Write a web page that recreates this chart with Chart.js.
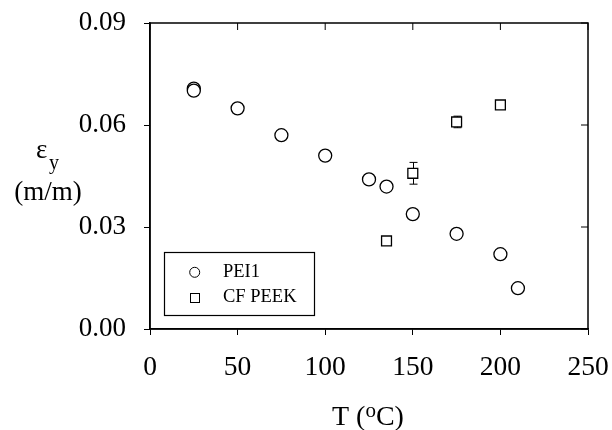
<!DOCTYPE html>
<html>
<head>
<meta charset="utf-8">
<script src="https://cdn.jsdelivr.net/npm/chart.js@4/dist/chart.umd.min.js"></script>
<style>
  html, body { margin: 0; padding: 0; background: #fff; }
  #wrap { width: 612px; height: 430px; }
</style>
</head>
<body>
<div id="wrap"><canvas id="c" width="612" height="430"></canvas></div>
<script>
// temperatures (oC) and yield strain (m/m)
const peiT = [25, 25, 50, 75, 100, 125, 135, 150, 175, 200, 210];
const peiStrain = [0.0707, 0.0701, 0.0649, 0.0570, 0.0510, 0.0440, 0.0419, 0.0338, 0.0280, 0.0220, 0.0120];
const peiErr = [0.0005, 0.0004, 0.0010, 0.0003, 0.0003, 0.0003, 0.0003, 0.0012, 0.0004, 0.0010, 0.0010];

const peekT = [135, 150, 175, 200];
const peekStrain = [0.0259, 0.0458, 0.0609, 0.0659];
const peekErr = [0.0012, 0.0032, 0.0017, 0.0004];

const xTicks = [0, 50, 100, 150, 200, 250];
const yTicks = [0.00, 0.03, 0.06, 0.09];

const FONT = '"Liberation Serif", "Times New Roman", serif';

function pts(xs, ys) {
    return xs.map((x, i) => ({ x: x, y: ys[i] }));
}

// error bars, box, inner ticks, axis titles and legend
const extras = {
    id: 'extras',
    beforeDatasetsDraw(chart) {
        const ctx = chart.ctx;
        const xs = chart.scales.x, ys = chart.scales.y;
        ctx.save();
        ctx.strokeStyle = '#000';
        ctx.lineWidth = 1;
        const sets = [[peiT, peiStrain, peiErr], [peekT, peekStrain, peekErr]];
        sets.forEach(([t, v, e]) => {
            t.forEach((tt, i) => {
                const px = Math.round(xs.getPixelForValue(tt)) + 0.5;
                const top = ys.getPixelForValue(v[i] + e[i]);
                const bot = ys.getPixelForValue(v[i] - e[i]);
                ctx.beginPath();
                ctx.moveTo(px, top); ctx.lineTo(px, bot);
                ctx.moveTo(px - 4, top); ctx.lineTo(px + 4, top);
                ctx.moveTo(px - 4, bot); ctx.lineTo(px + 4, bot);
                ctx.stroke();
            });
        });
        ctx.restore();
    },
    afterDraw(chart) {
        const ctx = chart.ctx;
        const a = chart.chartArea;
        const xs = chart.scales.x, ys = chart.scales.y;
        ctx.save();
        ctx.strokeStyle = '#000';
        ctx.lineWidth = 1.5;
        ctx.strokeRect(a.left, a.top, a.right - a.left, a.bottom - a.top);
        ctx.lineWidth = 1;
        ctx.beginPath();
        xTicks.forEach(t => {
            const px = xs.getPixelForValue(t);
            ctx.moveTo(px, a.top); ctx.lineTo(px, a.top + 7);
        });
        yTicks.forEach(t => {
            const py = ys.getPixelForValue(t);
            ctx.moveTo(a.right, py); ctx.lineTo(a.right - 7, py);
        });
        ctx.stroke();

        ctx.fillStyle = '#000';
        // y title
        ctx.textBaseline = 'alphabetic';
        ctx.textAlign = 'left';
        ctx.font = '27px ' + FONT;
        ctx.fillText('\u03b5', 36, 158);
        ctx.font = '20px ' + FONT;
        ctx.fillText('y', 49, 169);
        ctx.font = '27px ' + FONT;
        ctx.textAlign = 'center';
        ctx.fillText('(m/m)', 48, 200);

        // x title
        ctx.textAlign = 'left';
        ctx.font = '28px ' + FONT;
        const x0 = 332;
        ctx.fillText('T (', x0, 425);
        let w = ctx.measureText('T (').width;
        ctx.font = '21px ' + FONT;
        ctx.fillText('o', x0 + w, 417);
        const w2 = ctx.measureText('o').width;
        ctx.font = '28px ' + FONT;
        ctx.fillText('C)', x0 + w + w2, 425);

        // legend
        ctx.lineWidth = 1.2;
        ctx.strokeRect(164.5, 252.5, 150, 63);
        ctx.lineWidth = 1;
        ctx.beginPath();
        ctx.arc(194.7, 272.3, 5, 0, Math.PI * 2);
        ctx.stroke();
        ctx.strokeRect(190.5, 293.5, 9, 9);
        ctx.font = '18.5px ' + FONT;
        ctx.fillText('PEI1', 223, 277);
        ctx.fillText('CF PEEK', 223, 302);
        ctx.restore();
    }
};

new Chart(document.getElementById('c'), {
    type: 'scatter',
    data: {
        datasets: [{
            label: 'PEI1',
            data: pts(peiT, peiStrain),
            pointStyle: 'circle',
            pointRadius: 6.5,
            pointBorderWidth: 1.3,
            borderColor: '#000',
            backgroundColor: '#fff'
        },
        {
            label: 'CF PEEK',
            data: pts(peekT, peekStrain),
            pointStyle: 'rect',
            pointRadius: 7,
            pointBorderWidth: 1.3,
            borderColor: '#000',
            backgroundColor: '#fff'
        }]
    },
    plugins: [extras],
    options: {
        responsive: false,
        animation: false,
        layout: { padding: { left: 0, right: 24, top: 23, bottom: 0 } },
        plugins: {
            legend: { display: false },
            tooltip: { enabled: false }
        },
        scales: {
            x: {
                type: 'linear',
                min: 0, max: 250,
                afterBuildTicks: s => { s.ticks = xTicks.map(v => ({ value: v })); },
                afterFit: s => { s.height = 101; s.paddingLeft = 0; s.paddingRight = 0; },
                grid: { drawOnChartArea: false, tickLength: 6, color: '#000' },
                border: { color: '#000', width: 1.5 },
                ticks: {
                    color: '#000',
                    padding: 16,
                    font: { family: FONT, size: 27.5 },
                    callback: v => String(v)
                }
            },
            y: {
                type: 'linear',
                min: 0, max: 0.09,
                afterBuildTicks: s => { s.ticks = yTicks.map(v => ({ value: v })); },
                afterFit: s => { s.width = 150; s.paddingTop = 0; s.paddingBottom = 0; },
                grid: { drawOnChartArea: false, tickLength: 6, color: '#000' },
                border: { color: '#000', width: 1.5 },
                ticks: {
                    color: '#000',
                    padding: 18,
                    font: { family: FONT, size: 27 },
                    callback: v => v.toFixed(2)
                }
            }
        }
    }
});
</script>
</body>
</html>
